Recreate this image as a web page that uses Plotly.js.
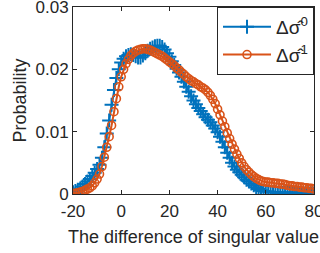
<!DOCTYPE html>
<html>
<head>
<meta charset="utf-8">
<script src="https://cdn.plot.ly/plotly-3.0.1.min.js"></script>
<style>html,body{margin:0;padding:0;background:#fff}#chart{width:320px;height:253px}</style>
</head>
<body>
<div id="chart"></div>
<script>
const xValues = [-20,-19,-18,-17,-16,-15,-14,-13,-12,-11,-10,-9,-8,-7,-6,-5,-4,-3,-2,-1,
0,1,2,3,4,5,6,7,8,9,10,11,12,13,14,15,16,17,18,19,
20,21,22,23,24,25,26,27,28,29,30,31,32,33,34,35,36,37,38,39,
40,41,42,43,44,45,46,47,48,49,50,51,52,53,54,55,56,57,58,59,
60,61,62,63,64,65,66,67,68,69,70,71,72,73,74,75,76,77,78,79,80];

const sigma0 = [0.0003,0.0005,0.0007,0.0009,0.0012,0.0016,0.0020,0.0024,0.0029,0.0034,
0.0040,0.0047,0.0058,0.0075,0.0097,0.0118,0.0143,0.0167,0.0186,0.0200,
0.0211,0.0217,0.0221,0.0223,0.0224,0.0223,0.0221,0.0219,0.0219,0.0222,
0.0226,0.0230,0.0233,0.0235,0.0237,0.0238,0.0238,0.0236,0.0232,0.0226,
0.0220,0.0213,0.0207,0.0201,0.0195,0.0188,0.0180,0.0172,0.0164,0.0157,
0.0150,0.0144,0.0138,0.0133,0.0128,0.0123,0.0119,0.0115,0.0110,0.0105,
0.0099,0.0092,0.0084,0.0075,0.0066,0.0058,0.0050,0.0044,0.0039,0.0035,
0.0031,0.0027,0.0023,0.0020,0.0017,0.0014,0.0011,0.0008,0.0006,0.0005,
0.0004,0.0004,0.0003,0.0003,0.0003,0.0002,0.0002,0.0002,0.0002,0.0002,
0.0002,0.0002,0.0002,0.0002,0.0002,0.0001,0.0001,0.0001,0.0001,0.0001,0.0001];

const sigma1 = [0.0001,0.0001,0.0002,0.0003,0.0004,0.0006,0.0008,0.0010,0.0013,0.0018,
0.0024,0.0032,0.0044,0.0059,0.0075,0.0092,0.0110,0.0132,0.0153,0.0172,
0.0188,0.0200,0.0209,0.0216,0.0222,0.0226,0.0229,0.0231,0.0232,0.0233,
0.0233,0.0232,0.0231,0.0229,0.0227,0.0225,0.0223,0.0221,0.0218,0.0215,
0.0212,0.0209,0.0206,0.0202,0.0199,0.0195,0.0192,0.0188,0.0185,0.0182,
0.0180,0.0177,0.0175,0.0172,0.0170,0.0167,0.0163,0.0158,0.0152,0.0145,
0.0136,0.0127,0.0117,0.0108,0.0098,0.0089,0.0080,0.0072,0.0064,0.0057,
0.0050,0.0044,0.0039,0.0035,0.0031,0.0028,0.0025,0.0023,0.0021,0.0020,
0.0019,0.0019,0.0018,0.0018,0.0017,0.0017,0.0016,0.0016,0.0015,0.0014,
0.0013,0.0013,0.0012,0.0012,0.0011,0.0011,0.0010,0.0010,0.0009,0.0009,0.0008];

const seriesNames = ['\u0394\u03c3\u0302<sup>0</sup>', '\u0394\u03c3\u0302<sup>1</sup>'];
const xTicks = [-20, 0, 20, 40, 60, 80];
const yTicks = [0, 0.01, 0.02, 0.03];
const yTickText = ['0', '0.01', '0.02', '0.03'];

const ink = '#262626';
const traces = [
  {x: xValues, y: sigma0, name: seriesNames[0], type: 'scatter', mode: 'lines+markers',
   line: {color: '#0072BD', width: 2},
   marker: {symbol: 'cross-thin-open', size: 10, color: '#0072BD', line: {color: '#0072BD', width: 2}}},
  {x: xValues, y: sigma1, name: seriesNames[1], type: 'scatter', mode: 'lines+markers',
   line: {color: '#D95319', width: 2},
   marker: {symbol: 'circle-open', size: 8, color: '#D95319', line: {color: '#D95319', width: 1.6}}}
];

const axisCommon = {
  showgrid: false, zeroline: false, showline: true, linecolor: ink, linewidth: 1,
  mirror: 'ticks', ticks: 'inside', ticklen: 4, tickwidth: 1, tickcolor: ink,
  ticklabeloverflow: 'allow',
  tickfont: {family: 'Liberation Sans, Arial, sans-serif', size: 17, color: ink}
};

const layout = {
  width: 320, height: 253,
  margin: {l: 73, r: 6, t: 7, b: 59},
  paper_bgcolor: '#fff', plot_bgcolor: '#fff',
  showlegend: true,
  font: {family: 'Liberation Sans, Arial, sans-serif', color: ink},
  xaxis: Object.assign({}, axisCommon, {
    range: [-20, 80], tickvals: xTicks, ticktext: xTicks.map(String),
    ticklabelstandoff: 2,
    title: {text: 'The difference of singular value', font: {size: 18, color: ink}, standoff: 9}
  }),
  yaxis: Object.assign({}, axisCommon, {
    range: [0, 0.03], tickvals: yTicks, ticktext: yTickText,
    title: {text: 'Probability', font: {size: 18, color: ink}, standoff: 4}
  }),
  legend: {
    x: 1, xanchor: 'right', y: 1, yanchor: 'top',
    bgcolor: '#fff', bordercolor: ink, borderwidth: 1,
    font: {family: 'Liberation Sans, Arial, sans-serif', size: 19, color: ink},
    itemwidth: 48,
    tracegroupgap: 0
  }
};

Plotly.newPlot('chart', traces, layout, {displayModeBar: false, staticPlot: true});
</script>
</body>
</html>
